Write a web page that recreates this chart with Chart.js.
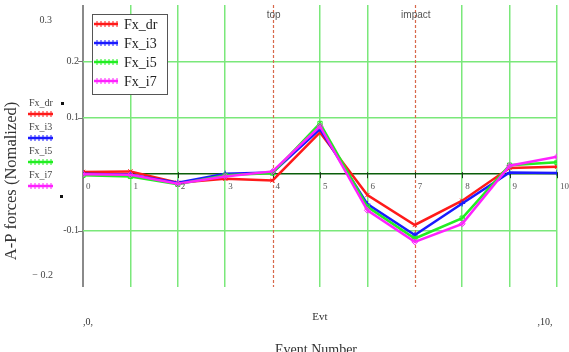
<!DOCTYPE html>
<html>
<head>
<meta charset="utf-8">
<script src="https://cdn.jsdelivr.net/npm/chart.js@4"></script>
<style>
  body { margin: 0; background: #fff; }
  #wrap { width: 569px; height: 352px; }
</style>
</head>
<body>
<div id="wrap"><canvas id="chart-line" width="569" height="352"></canvas></div>
<script>
// event numbers along x, A-P forces per series
var events = [0, 1, 2, 3, 4, 5, 6, 7, 8, 9, 10];
var fxDr = [0.004, 0.005, -0.015, -0.008, -0.011, 0.074, -0.037, -0.090, -0.047, 0.011, 0.013];
var fxI3 = [0.001, -0.001, -0.015, 0.001, 0.003, 0.080, -0.053, -0.108, -0.052, 0.003, 0.002];
var fxI5 = [-0.002, -0.004, -0.018, -0.002, 0.002, 0.090, -0.058, -0.114, -0.078, 0.016, 0.021];
var fxI7 = [0.000, -0.001, -0.017, -0.004, 0.005, 0.085, -0.064, -0.120, -0.088, 0.015, 0.031];

var seriesNames = ["Fx_dr", "Fx_i3", "Fx_i5", "Fx_i7"];
var seriesColors = ["#ff1a1a", "#1a1aff", "#22ee22", "#ff22ff"];
var seriesMarks = ["crossRot", "cross", "rect", "rectRot"];

var yTickValues = [0.2, 0.1, -0.1];
var yTickLabels = ["0.2", "0.1", "-0.1"];
var xTickLabels = ["0", "1", "2", "3", "4", "5", "6", "7", "8", "9", "10"];

var markerPos = [4, 7];
var markerLabels = ["top", "impact"];

var serif = "'Liberation Serif', 'Times New Roman', serif";

function pts(vals) {
  return events.map(function (e, i) { return { x: e, y: vals[i] }; });
}

var allSeries = [fxDr, fxI3, fxI5, fxI7];
var datasets = allSeries.map(function (vals, i) {
  return {
    label: seriesNames[i],
    data: pts(vals),
    borderColor: seriesColors[i],
    backgroundColor: "transparent",
    borderWidth: 2.5,
    pointStyle: seriesMarks[i],
    pointRadius: 3,
    pointBorderColor: seriesColors[i],
    pointBorderWidth: 1,
    tension: 0,
    order: 4 - i
  };
});

// labels, legends and marker lines that Mathcad draws around the plot
var decor = {
  id: "decor",
  beforeDatasetsDraw: function (chart) {
    var c = chart.ctx, x = chart.scales.x, y = chart.scales.y, a = chart.chartArea;
    c.save();
    // event marker lines
    c.strokeStyle = "#d8684a";
    c.lineWidth = 1.2;
    c.setLineDash([3, 2]);
    markerPos.forEach(function (m) {
      var px = Math.round(x.getPixelForValue(m)) + 0.5;
      c.beginPath(); c.moveTo(px, a.top); c.lineTo(px, a.bottom); c.stroke();
    });
    c.setLineDash([]);
    // tick marks on zero line
    var y0 = y.getPixelForValue(0);
    c.strokeStyle = "#1a3a1a";
    c.lineWidth = 1;
    events.forEach(function (e) {
      var px = Math.round(x.getPixelForValue(e)) + 0.5;
      c.beginPath(); c.moveTo(px, y0 - 2); c.lineTo(px, y0 + 4); c.stroke();
    });
    // y tick marks
    c.strokeStyle = "#777";
    yTickValues.forEach(function (v) {
      var py = Math.round(y.getPixelForValue(v)) + 0.5;
      c.beginPath(); c.moveTo(a.left - 5, py); c.lineTo(a.left, py); c.stroke();
    });
    c.restore();
  },
  afterDraw: function (chart) {
    var c = chart.ctx, x = chart.scales.x, y = chart.scales.y, a = chart.chartArea;
    c.save();
    c.fillStyle = "#444";
    c.textBaseline = "middle";

    // y tick labels
    c.font = "10px " + serif;
    c.textAlign = "right";
    yTickValues.forEach(function (v, i) {
      c.fillText(yTickLabels[i], a.left - 4, y.getPixelForValue(v));
    });
    c.fillText("0.3", 52, 20);
    c.fillText("\u2212 0.2", 53, 275);

    // x tick labels below zero line
    var y0 = y.getPixelForValue(0);
    c.font = "9px " + serif;
    c.fillStyle = "#555";
    c.textAlign = "left";
    events.forEach(function (e, i) {
      c.fillText(xTickLabels[i], x.getPixelForValue(e) + 3, y0 + 12);
    });

    // limits and axis names below the plot
    c.fillStyle = "#333";
    c.font = "10px " + serif;
    c.textAlign = "center";
    c.fillText(",0,", 88, 322);
    c.fillText(",10,", 545, 322);
    c.font = "11px " + serif;
    c.fillText("Evt", 320, 317);
    c.font = "14px " + serif;
    c.fillText("Event Number", 316, 350);

    // y title
    c.save();
    c.translate(12, 181);
    c.rotate(-Math.PI / 2);
    c.font = "16.5px " + serif;
    c.fillText("A-P forces (Nomalized)", 0, 0);
    c.restore();

    // marker labels
    c.font = "10px 'Liberation Sans', Arial, sans-serif";
    c.fillStyle = "#555";
    markerPos.forEach(function (m, i) {
      c.fillText(markerLabels[i], x.getPixelForValue(m) + 1, 15);
    });

    // legend box
    c.fillStyle = "#fff";
    c.fillRect(92, 14, 75, 80);
    c.strokeStyle = "#555";
    c.lineWidth = 1;
    c.strokeRect(92.5, 14.5, 75, 80);
    seriesNames.forEach(function (n, i) {
      var ly = 24 + i * 19;
      sample(c, 94, 118, ly, i, 2.5);
      c.fillStyle = "#222";
      c.font = "14px " + serif;
      c.textAlign = "left";
      c.fillText(n, 124, ly + 1);
    });

    // side legend
    seriesNames.forEach(function (n, i) {
      var ty = 103 + i * 24;
      c.fillStyle = "#444";
      c.font = "10px " + serif;
      c.textAlign = "left";
      c.fillText(n, 29, ty);
      sample(c, 28, 53, ty + 11, i, 2.5);
    });
    c.fillStyle = "#111";
    c.fillRect(61, 102, 3, 3);
    c.fillRect(60, 195, 3, 3);
    c.restore();
  }
};

function sample(c, x1, x2, yy, i, w) {
  c.save();
  c.strokeStyle = seriesColors[i];
  c.lineWidth = w;
  c.beginPath(); c.moveTo(x1, yy); c.lineTo(x2, yy); c.stroke();
  c.lineWidth = 1;
  for (var px = x1 + 3; px < x2; px += 4) {
    c.beginPath(); c.moveTo(px, yy - 3); c.lineTo(px, yy + 3); c.stroke();
  }
  c.restore();
}

function xGridColor(c) {
  if (!c.tick) return "#7ae87a";
  if (c.tick.value === 0) return "#8a8a8a";
  if (markerPos.indexOf(c.tick.value) >= 0) return "transparent";
  return "#7ae87a";
}

var ctx = document.getElementById("chart-line").getContext("2d");

new Chart(ctx, {
  type: "line",
  data: { datasets: datasets },
  options: {
    responsive: false,
    animation: false,
    layout: { padding: { left: 83, right: 12, top: 5, bottom: 65 } },
    plugins: { legend: { display: false }, tooltip: { enabled: false } },
    scales: {
      x: {
        type: "linear",
        min: 0,
        max: 10,
        border: { display: false },
        ticks: { display: false, stepSize: 1 },
        grid: {
          drawTicks: false,
          lineWidth: function (c) { return c.tick && c.tick.value === 0 ? 2 : 1.5; },
          color: xGridColor
        }
      },
      y: {
        min: -0.2,
        max: 0.3,
        border: { display: false },
        ticks: { display: false, stepSize: 0.1 },
        grid: {
          drawTicks: false,
          lineWidth: 1.5,
          color: function (c) {
            var v = Math.round(c.tick.value * 10);
            if (v === 0) return "#0b5e0b";
            if (v === 3 || v === -2) return "transparent";
            return "#7ae87a";
          }
        }
      }
    }
  },
  plugins: [decor]
});
</script>
</body>
</html>
